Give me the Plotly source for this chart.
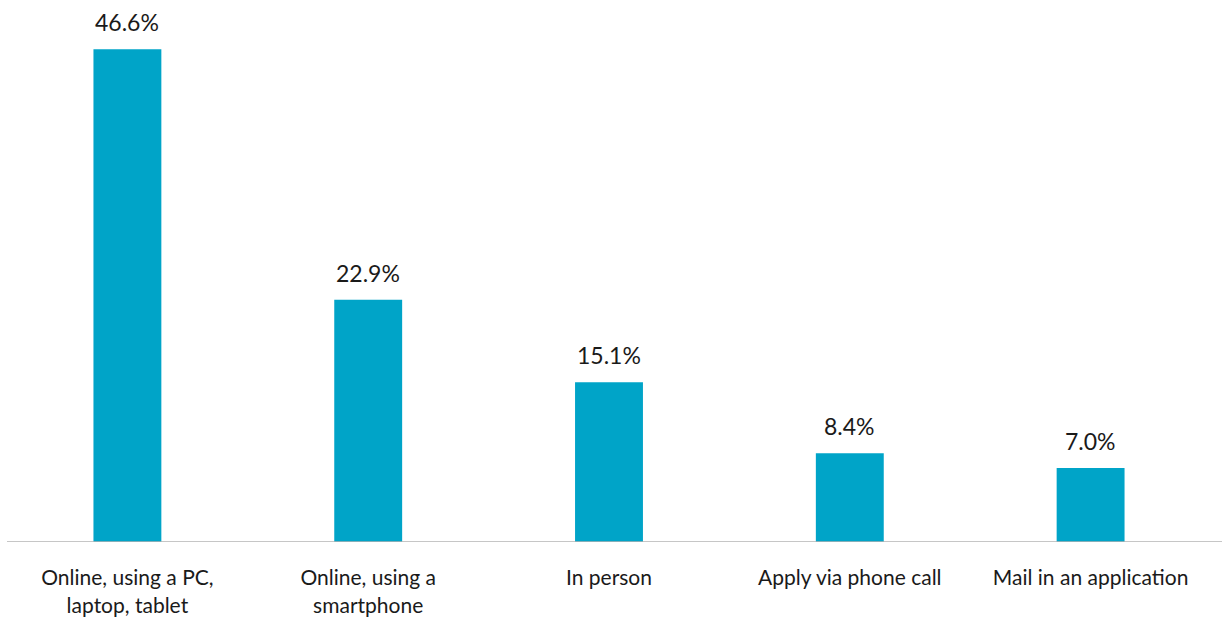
import plotly.graph_objects as go

# Application channel shares (percent)
categories = [
    "Online, using a PC,<br>laptop, tablet",
    "Online, using a<br>smartphone",
    "In person",
    "Apply via phone call",
    "Mail in an application",
]
shares = [46.6, 22.9, 15.1, 8.4, 7.0]
value_labels = [f"{v:.1f}%" for v in shares]

BAR_COLOR = "#00A4C8"
FONT = "Lato"

fig = go.Figure(
    go.Bar(
        x=categories,
        y=shares,
        marker=dict(color=BAR_COLOR, line=dict(width=0)),
        hoverinfo="skip",
    )
)

# Value labels above each bar
for cat, val, lab in zip(categories, shares, value_labels):
    fig.add_annotation(
        x=cat, y=val, text=lab, showarrow=False,
        yanchor="bottom", yshift=11,
        font=dict(family=FONT, size=23, color="#1a1a1a"),
    )

fig.update_layout(
    width=1222, height=617,
    margin=dict(l=7, r=11, t=10, b=75),
    plot_bgcolor="white", paper_bgcolor="white",
    bargap=0.718,
    showlegend=False,
    font=dict(family=FONT, size=21, color="#1a1a1a"),
    xaxis=dict(
        showgrid=False, showline=False, zeroline=False, automargin=False,
        ticks="outside", ticklen=17, tickcolor="rgba(0,0,0,0)",
        tickfont=dict(family=FONT, size=21, color="#1a1a1a"),
    ),
    yaxis=dict(
        range=[0, 50.3], visible=False, showgrid=False, zeroline=False,
    ),
)

# Baseline spanning the full width
fig.add_shape(
    type="line", xref="paper", yref="y",
    x0=0, x1=1.01, y0=0, y1=0,
    line=dict(color="#b3b3b3", width=1.5),
)

fig.write_html("out.html")
